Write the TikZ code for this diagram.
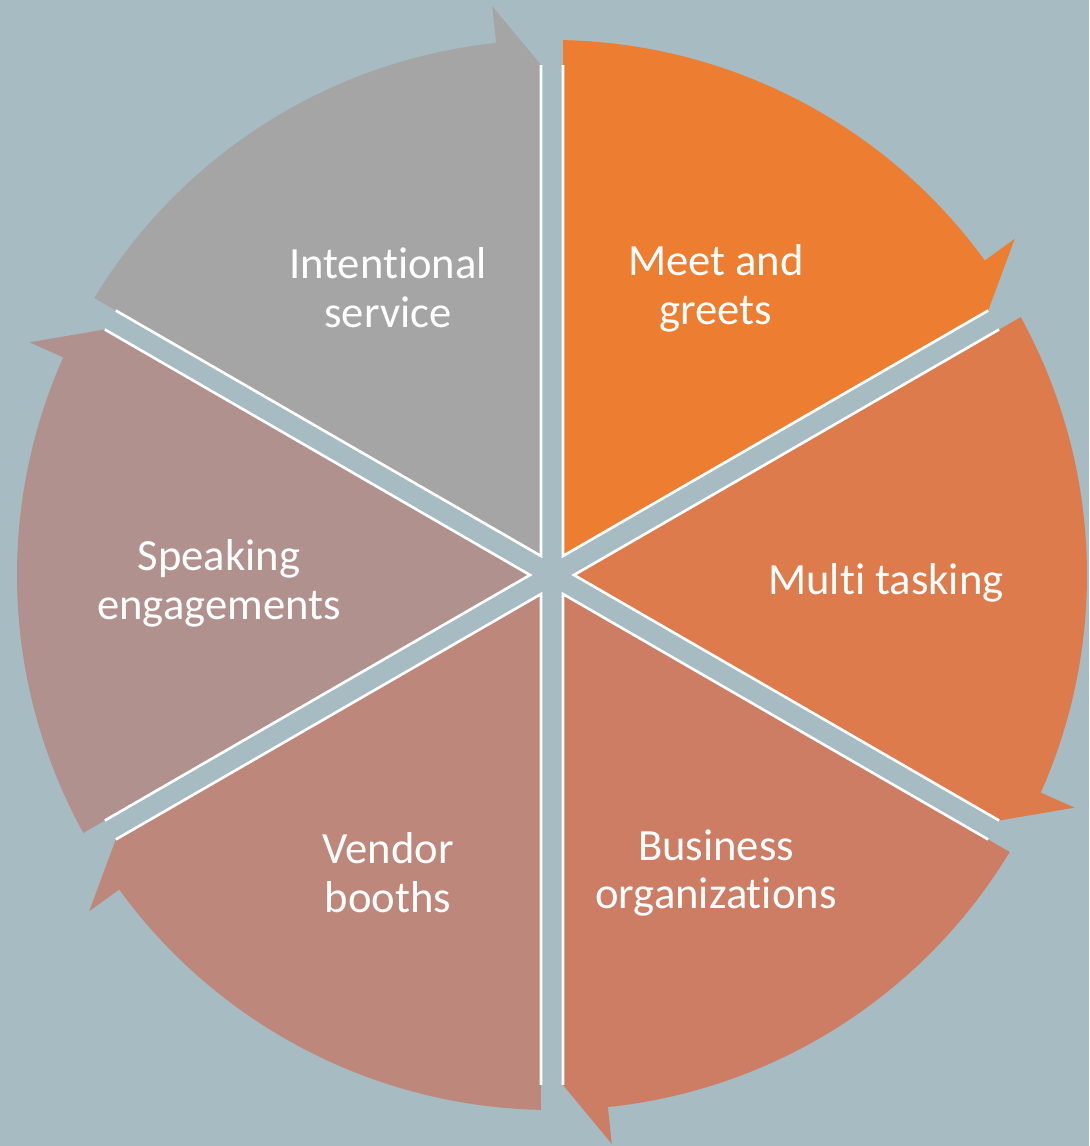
\documentclass[tikz,border=0pt]{standalone}
\usepackage{fontspec}
\setmainfont{Carlito}[Ligatures=NoCommon]
\definecolor{bgblue}{RGB}{166,187,194}
\definecolor{segA}{RGB}{237,125,49}
\definecolor{segB}{RGB}{221,123,77}
\definecolor{segC}{RGB}{205,125,100}
\definecolor{segD}{RGB}{190,135,123}
\definecolor{segE}{RGB}{176,145,142}
\definecolor{segF}{RGB}{165,165,165}

\begin{document}
\begin{tikzpicture}[x=0.02cm, y=0.02cm, label text/.style={text=white, align=center, font=\fontsize{25.4}{27.8}\selectfont}, seg edge/.style={draw=white, line width=1.5pt}]

            \fill[bgblue] (-552,-571) rectangle (537,575);
            \useasboundingbox (-552,-571) rectangle (537,575);

            \foreach \a/\c in {60/segA, 0/segB, -60/segC, -120/segD, 180/segE, 120/segF} {
                \fill[\c] (\a:22) -- ({\a+28.82}:535)
                    arc[start angle=\a+28.82, end angle=\a-24, radius=535]
                    -- ({\a-24}:572) -- ({\a-28.77}:510.1) -- cycle;
                \draw[seg edge] ({\a+28.77}:510.1) -- (\a:22) -- ({\a-28.77}:510.1);
            }

            \node[label text] (meet) at (164,287) {Meet and\\greets};
            \node[label text] (multi) at (334,-8) {Multi tasking};
            \node[label text] (business) at (164,-298) {Business\\organizations};
            \node[label text] (vendor) at (-164,-298) {Vendor\\booths};
            \node[label text] (speaking) at (-333,-8) {Speaking\\engagements};
            \node[label text] (intentional) at (-164,287) {Intentional\\service};
        \end{tikzpicture}
\end{document}
